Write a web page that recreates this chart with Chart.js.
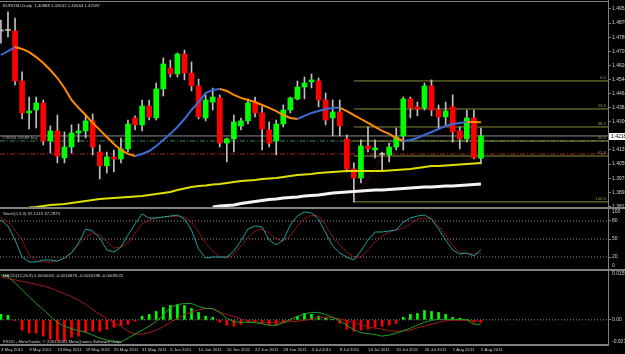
<!DOCTYPE html>
<html>
<head>
<meta charset="utf-8">
<title>EURUSD Daily</title>
<script src="https://cdn.jsdelivr.net/npm/chart.js@4.4.1/dist/chart.umd.min.js"></script>
<style>
  html, body { margin: 0; padding: 0; background: #000; }
  #wrap { position: relative; width: 625px; height: 354px; overflow: hidden; background: #000; }
  #wrap canvas { position: absolute; left: 0; }
  .rule { position: absolute; background: #808080; }
</style>
</head>
<body>
<div id="wrap">
  <canvas id="c-main" width="625" height="207" style="top:0"></canvas>
  <canvas id="c-stoch" width="625" height="60" style="top:209px"></canvas>
  <canvas id="c-macd" width="625" height="83" style="top:271px"></canvas>
  <div class="rule" style="left:0;top:1px;width:609px;height:1px"></div>
  <div class="rule" style="left:0;top:207px;width:625px;height:2px"></div>
  <div class="rule" style="left:0;top:269px;width:625px;height:2px"></div>
  <div class="rule" style="left:0;top:345px;width:609px;height:1px"></div>
  <div class="rule" style="left:608px;top:0;width:1px;height:346px"></div>
</div>
<script>
// EURUSD daily, 3 May - 5 Aug 2011 (bar index 0..68)
var dates = [
  '3 May','4 May','5 May','6 May','9 May','10 May','11 May','12 May','13 May','16 May',
  '17 May','18 May','19 May','20 May','23 May','24 May','25 May','26 May','27 May','30 May',
  '31 May','1 Jun','2 Jun','3 Jun','6 Jun','7 Jun','8 Jun','9 Jun','10 Jun','13 Jun',
  '14 Jun','15 Jun','16 Jun','17 Jun','20 Jun','21 Jun','22 Jun','23 Jun','24 Jun','27 Jun',
  '28 Jun','29 Jun','30 Jun','1 Jul','4 Jul','5 Jul','6 Jul','7 Jul','8 Jul','11 Jul',
  '12 Jul','13 Jul','14 Jul','15 Jul','18 Jul','19 Jul','20 Jul','21 Jul','22 Jul','25 Jul',
  '26 Jul','27 Jul','28 Jul','29 Jul','1 Aug','2 Aug','3 Aug','4 Aug','5 Aug'
];

var open = [
  1.4825,1.4828,1.4825,1.4536,1.4351,1.4368,1.4409,1.4189,1.4247,1.4091,
  1.4154,1.4235,1.4247,1.4305,1.4125,1.4045,1.4097,1.4085,1.4143,1.4322,
  1.4282,1.4391,1.4322,1.4490,1.4611,1.4576,1.4692,1.4582,1.4507,1.4322,
  1.4414,1.4438,1.4177,1.4201,1.4276,1.4305,1.4409,1.4351,1.4253,1.4189,
  1.4287,1.4368,1.4432,1.4501,1.4530,1.4536,1.4426,1.4322,1.4357,1.4201,
  1.4027,1.3975,1.4160,1.4137,1.4111,1.4108,1.4154,1.4218,1.4432,1.4386,
  1.4380,1.4507,1.4368,1.4328,1.4386,1.4247,1.4201,1.4322,1.40888
];
var high = [
  1.4888,1.4935,1.4900,1.4588,1.4443,1.4443,1.4426,1.4276,1.4339,1.4241,
  1.4282,1.4287,1.4339,1.4345,1.4166,1.4125,1.4137,1.4206,1.4310,1.4334,
  1.4426,1.4426,1.4524,1.4669,1.4657,1.4698,1.4715,1.4646,1.4547,1.4455,
  1.4495,1.4455,1.4206,1.4339,1.4322,1.4432,1.4443,1.4386,1.4299,1.4310,
  1.4397,1.4443,1.4536,1.4559,1.4576,1.4553,1.4466,1.4426,1.4426,1.4224,
  1.4062,1.4195,1.4270,1.4195,1.4125,1.4177,1.4264,1.4443,1.4443,1.4414,
  1.4524,1.4542,1.4397,1.4414,1.4455,1.4270,1.4368,1.4368,1.42642
];
var low = [
  1.4755,1.4790,1.4513,1.4316,1.4258,1.4264,1.4166,1.4120,1.4062,1.4062,
  1.4120,1.4183,1.4206,1.4108,1.3969,1.4004,1.4010,1.4062,1.4125,1.4253,
  1.4247,1.4310,1.4310,1.4449,1.4559,1.4559,1.4542,1.4478,1.4316,1.4305,
  1.4368,1.4154,1.4068,1.4125,1.4253,1.4287,1.4328,1.4137,1.4154,1.4108,
  1.4270,1.4351,1.4426,1.4432,1.4495,1.4386,1.4282,1.4218,1.4218,1.4010,
  1.3837,1.3946,1.4125,1.4091,1.4016,1.4068,1.4137,1.4137,1.4322,1.4334,
  1.4368,1.4334,1.4264,1.4276,1.4183,1.4143,1.4183,1.4085,1.40564
];
var close = [
  1.4825,1.4828,1.4536,1.4351,1.4362,1.4409,1.4189,1.4247,1.4102,1.4154,
  1.4235,1.4247,1.4305,1.4154,1.4045,1.4097,1.4085,1.4143,1.4287,1.4282,
  1.4391,1.4328,1.4490,1.4634,1.4576,1.4692,1.4582,1.4507,1.4328,1.4426,
  1.4443,1.4177,1.4201,1.4299,1.4305,1.4409,1.4351,1.4258,1.4177,1.4287,
  1.4368,1.4438,1.4501,1.4524,1.4542,1.4426,1.4310,1.4357,1.4276,1.4027,
  1.3975,1.4160,1.4143,1.4149,1.4111,1.4154,1.4212,1.4432,1.4380,1.4374,
  1.4507,1.4368,1.4328,1.4362,1.4241,1.4201,1.4322,1.4091,1.42187
];

// colour-switching average (blue rising / orange falling)
var maFast = [
  1.4686,1.4709,1.4732,1.4721,1.4703,1.4674,1.4640,1.4599,1.4553,1.4495,
  1.4426,1.4380,1.4339,1.4293,1.4253,1.4212,1.4172,1.4137,1.4114,1.4102,
  1.4114,1.4131,1.4160,1.4195,1.4230,1.4270,1.4316,1.4368,1.4414,1.4466,
  1.4484,1.4490,1.4478,1.4455,1.4438,1.4426,1.4414,1.4397,1.4380,1.4362,
  1.4339,1.4322,1.4316,1.4334,1.4351,1.4362,1.4374,1.4380,1.4382,1.4362,
  1.4339,1.4316,1.4293,1.4270,1.4247,1.4230,1.4206,1.4189,1.4195,1.4206,
  1.4224,1.4241,1.4258,1.4276,1.4287,1.4293,1.4299,1.4298,1.4297
];
// yellow average
var maMid = [
  null,null,null,null,1.38047,1.38076,1.38133,1.38191,1.38220,1.38249,
  1.38307,1.38365,1.38422,1.38480,1.38538,1.38567,1.38596,1.38625,1.38654,1.38682,
  1.38711,1.38769,1.38827,1.38885,1.38943,1.39058,1.39145,1.39232,1.39289,1.39318,
  1.39376,1.39405,1.39463,1.39521,1.39578,1.39607,1.39636,1.39694,1.39723,1.39752,
  1.39810,1.39867,1.39925,1.39954,1.39983,1.40041,1.40070,1.40099,1.40127,1.40156,
  1.40156,1.40156,1.40156,1.40156,1.40156,1.40185,1.40214,1.40243,1.40272,1.40330,
  1.40388,1.40445,1.40445,1.40474,1.40503,1.40532,1.40561,1.40590,1.40619
];
// white average
var maSlow = [
  null,null,null,null,null,null,null,null,null,null,
  null,null,null,null,null,null,null,null,null,null,
  null,null,null,null,null,null,null,null,null,null,
  1.38076,1.38133,1.38162,1.38191,1.38278,1.38336,1.38394,1.38451,1.38509,1.38538,
  1.38596,1.38625,1.38654,1.38711,1.38740,1.38769,1.38827,1.38885,1.38914,1.38943,
  1.38972,1.39001,1.39030,1.39058,1.39058,1.39087,1.39116,1.39145,1.39174,1.39203,
  1.39232,1.39232,1.39260,1.39289,1.39289,1.39318,1.39347,1.39376,1.39405
];

var stochMain = [
  81.7,71.7,48.3,20,11.7,11.7,15,15,13.3,18.3,
  26.7,43.3,66.7,63.3,51.7,31.7,28.3,36.7,56.7,75,
  91.7,85,85,86.7,88.3,90,83.3,65,33.3,18.3,
  20,20,20,30,46.7,66.7,71.7,70,48.3,40,
  48.3,73.3,88.3,95,93.3,83.3,60,38.3,26.7,20,
  15,30,48.3,61.7,61.7,63.3,65,78.3,85,88.3,
  90,83.3,66.7,48.3,31.7,25,26.7,21.7,32.1
];
var stochSignal = [
  85,78.3,65,48.3,23.3,13.3,11.7,11.7,13.3,18.3,
  28.3,40,53.3,60,56.7,45,35,36.7,43.3,60,
  75,81.7,85,86.7,86.7,88.3,86.7,78.3,61.7,43.3,
  30,20,18.3,25,38.3,53.3,63.3,66.7,60,50,
  46.7,55,71.7,83.3,90,88.3,73.3,53.3,40,28.3,
  20,20,31.7,45,55,61.7,65,68.3,75,83.3,
  85,83.3,71.7,56.7,38.3,28.3,25,25,26.7
];

var macdHist = [
  0.00177,0.00145,-0.0002,-0.00338,-0.00434,-0.00434,-0.00531,-0.00627,-0.00691,-0.00691,
  -0.00563,-0.00531,-0.00402,-0.00370,-0.00370,-0.00305,-0.00241,-0.00177,-0.00145,-0.00048,
  0.00113,0.00177,0.00273,0.00402,0.00466,0.00498,0.00466,0.00370,0.00241,0.00113,
  0.00080,-0.00080,-0.00177,-0.00209,-0.00145,-0.00080,-0.00048,-0.00113,-0.00177,-0.00177,
  -0.00080,-0.00016,0.00113,0.00209,0.00177,0.00113,0.00048,0.00016,-0.00113,-0.00305,
  -0.00370,-0.00338,-0.00305,-0.00241,-0.00209,-0.00177,-0.00113,0.00080,0.00177,0.00209,
  0.00305,0.00273,0.00241,0.00177,0.00080,0.00048,0.00016,-0.00080,-0.00080
];
var macdMain = [
  0.01463,0.01415,0.01206,0.00981,0.00756,0.00531,0.00338,0.00113,-0.00080,-0.00209,
  -0.00289,-0.00354,-0.00402,-0.00498,-0.00595,-0.00659,-0.00707,-0.00723,-0.00595,-0.00466,
  -0.00338,-0.00209,-0.00048,0.00145,0.00402,0.00498,0.00531,0.00531,0.00434,0.00370,
  0.00370,0.00241,0.00048,-0.00064,-0.00080,-0.00080,-0.00096,-0.00129,-0.00177,-0.00177,
  -0.00096,0.00016,0.00113,0.00193,0.00241,0.00241,0.00177,0.00080,-0.00032,-0.00177,
  -0.00322,-0.00418,-0.00450,-0.00482,-0.00531,-0.00498,-0.00434,-0.00354,-0.00273,-0.00177,
  -0.00080,-0.00016,0.00016,0.00016,0.00016,0.00016,0,-0.00145,-0.00145
];
var macdSignal = [
  0.01399,0.01350,0.01302,0.01254,0.01206,0.01158,0.01109,0.01029,0.00949,0.00852,
  0.00756,0.00643,0.00498,0.00338,0.00177,0.00048,-0.00096,-0.00209,-0.00370,-0.00466,
  -0.00466,-0.00418,-0.00338,-0.00225,-0.00080,0.00048,0.00177,0.00257,0.00322,0.00370,
  0.00354,0.00241,0.00177,0.00113,0.00032,-0.00032,-0.00064,-0.00080,-0.00080,-0.00080,
  -0.00080,-0.00064,-0.00048,-0.00016,0.00032,0.00080,0.00080,0.00064,0.00032,-0.00032,
  -0.00080,-0.00161,-0.00225,-0.00273,-0.00305,-0.00354,-0.00370,-0.00370,-0.00338,-0.00257,
  -0.00209,-0.00145,-0.00080,-0.00032,-0.00016,-0.00016,-0.00016,-0.00032,-0.00048
];

// axis labels
var priceTickLabels = ['1.49520','1.48705','1.47890','1.47075','1.46260','1.45445','1.44630','1.43815',
  '1.43000','1.42185','1.41370','1.40555','1.39740','1.38925','1.38110'];
var timeTickIndex = [0,4,8,12,16,20,24,28,32,36,40,44,48,52,56,60,64,68];
var timeTickLabels = ['3 May 2011','9 May 2011','13 May 2011','19 May 2011','25 May 2011','31 May 2011',
  '6 Jun 2011','10 Jun 2011','16 Jun 2011','22 Jun 2011','28 Jun 2011','4 Jul 2011','8 Jul 2011',
  '14 Jul 2011','20 Jul 2011','26 Jul 2011','1 Aug 2011','5 Aug 2011'];
var stochLevels = [80, 50, 20];

// chart objects
var fibLabels = ['0.0','23.6','38.2','50.0','61.8','100.0'];
var fibPrices = [1.4536, 1.4374, 1.4270, 1.4189, 1.4102, 1.3837];
var fibFrom = 50;
var fibTrendIdx = [50, 61];
var fibTrendPrice = [1.3837, 1.4542];
var orderPrice = 1.4218;
var greenLinePrice = 1.4189;
var redLinePrice = 1.4114;

// view window (bar index at left and right edge of the plot)
var X_MIN = -0.13, X_MAX = 86.0;

var UP = '#00ff00', DOWN = '#ff0000', WICK = '#c0c0c0';
var BLUE = '#3c6cd8', ORANGE = '#ff8c00';
var FONT = '"Liberation Sans", Arial, sans-serif';
var TXT = '#d0d0d0', GRID = '#808080';
var SMALL = 4.3;

function pts(arr) {
  var out = [];
  arr.forEach(function (v, i) { if (v != null) out.push({ x: i, y: v }); });
  return out;
}
function hline(v, from, to) { return [{ x: from, y: v }, { x: to, y: v }]; }
function lineSet(data, color, width, order, dash) {
  return { type: 'line', data: data, borderColor: color, borderWidth: width, borderDash: dash || [],
    pointRadius: 0, tension: 0, fill: false, order: order };
}
function text(ctx, s, x, y, color, align, size) {
  ctx.save();
  ctx.font = (size || SMALL) + 'px ' + FONT;
  ctx.fillStyle = color || TXT;
  ctx.textAlign = align || 'left';
  ctx.textBaseline = 'middle';
  ctx.fillText(s, x, y);
  ctx.restore();
}
function rightAxis(extra) {
  var ax = {
    position: 'right',
    afterFit: function (s) { s.width = 17; s.paddingTop = 0; s.paddingBottom = 0; },
    ticks: { color: TXT, font: { size: 5, family: FONT }, padding: 1 },
    grid: { drawOnChartArea: false, drawTicks: true, tickLength: 3, color: GRID },
    border: { display: true, color: GRID }
  };
  for (var k in extra) ax[k] = extra[k];
  return ax;
}
var hiddenX = { type: 'linear', min: X_MIN, max: X_MAX, offset: false, display: false };
function opts(scales) {
  return {
    responsive: false, animation: false, events: [],
    layout: { padding: 0 },
    plugins: { legend: { display: false }, tooltip: { enabled: false } },
    scales: scales
  };
}

// ---------- main price window ----------
var bodies = open.map(function (o, i) { return { x: i, y: [o, close[i]] }; });
var wicks = low.map(function (l, i) { return { x: i, y: [l, high[i]] }; });

var mainSets = [
  { type: 'line', data: pts(maFast), borderWidth: 2, borderColor: BLUE, pointRadius: 0, tension: 0, order: 1,
    segment: { borderColor: function (c) { return c.p1.parsed.y > c.p0.parsed.y ? BLUE : ORANGE; } } },
  lineSet(pts(maMid), '#dede00', 2, 2),
  lineSet(pts(maSlow), '#f4f4f4', 3, 3),
  { type: 'bar', data: bodies, barThickness: 5, minBarLength: 1, grouped: false, order: 4,
    backgroundColor: function (c) {
      var v = c.raw.y;
      return v[1] > v[0] ? UP : (v[1] < v[0] ? DOWN : WICK);
    } },
  { type: 'bar', data: wicks, barThickness: 1, grouped: false, order: 5, backgroundColor: WICK },
  lineSet([{ x: fibTrendIdx[0], y: fibTrendPrice[0] }, { x: fibTrendIdx[1], y: fibTrendPrice[1] }], '#e01010', 1, 6, [1, 2]),
  lineSet(hline(orderPrice, X_MIN, X_MAX), '#8c8c8c', 1, 8),
  lineSet(hline(greenLinePrice, X_MIN, X_MAX), '#2f8f4f', 1, 8, [5, 2, 1, 2]),
  lineSet(hline(redLinePrice, X_MIN, X_MAX), '#b02020', 1, 8, [5, 2, 1, 2])
];
fibPrices.forEach(function (p) { mainSets.push(lineSet(hline(p, fibFrom, X_MAX), '#8a8a3c', 1, 7)); });

new Chart(document.getElementById('c-main'), {
  type: 'bar',
  data: { datasets: mainSets },
  options: opts({
    x: hiddenX,
    y: rightAxis({
      min: 1.38072, max: 1.50040,
      afterBuildTicks: function (s) { s.ticks = priceTickLabels.map(function (t) { return { value: parseFloat(t) }; }); },
      ticks: { color: TXT, font: { size: 5, family: FONT }, padding: 1,
        callback: function (v, i) { return priceTickLabels[i]; } }
    })
  }),
  plugins: [{
    id: 'mainText',
    afterDraw: function (chart) {
      var ctx = chart.ctx, y = chart.scales.y;
      text(ctx, 'EURUSD,Daily  1.40888 1.42642 1.40564 1.42187', 3, 6);
      text(ctx, '#28944 33589 buy', 2, y.getPixelForValue(orderPrice) + 2, '#a0a0a0');
      fibPrices.forEach(function (p, i) {
        text(ctx, fibLabels[i], 606, y.getPixelForValue(p) - 3, '#9a9a40', 'right');
      });
      var cy = Math.round(y.getPixelForValue(close[close.length - 1]));
      ctx.fillStyle = '#ffffff';
      ctx.fillRect(609, cy - 3, 16, 7);
      text(ctx, close[close.length - 1].toFixed(5), 611, cy + 0.5, '#000000', 'left', 5);
    }
  }]
});

// ---------- stochastic window ----------
var stochSets = [
  lineSet(pts(stochMain), '#1f9e9e', 1, 1),
  lineSet(pts(stochSignal), '#c41c1c', 1, 2, [2, 1])
];
stochLevels.forEach(function (lv) { stochSets.push(lineSet(hline(lv, X_MIN, X_MAX), '#9a9a9a', 1, 5, [1, 2])); });

new Chart(document.getElementById('c-stoch'), {
  type: 'line',
  data: { datasets: stochSets },
  options: opts({
    x: hiddenX,
    y: rightAxis({
      min: 0, max: 100,
      afterBuildTicks: function (s) { s.ticks = stochLevels.map(function (v) { return { value: v }; }); }
    })
  }),
  plugins: [{
    id: 'stochText',
    afterDraw: function (chart) {
      var ctx = chart.ctx;
      text(ctx, 'Stoch(5,3,3) 32.1245 37.2873', 3, 5);
      text(ctx, '100', 612, 3, TXT, 'left', 5);
      text(ctx, '0', 612, 57, TXT, 'left', 5);
    }
  }]
});

// ---------- MACD window ----------
var macdSets = [
  lineSet(pts(macdMain), '#20a020', 1, 1),
  lineSet(pts(macdSignal), '#a01c1c', 1, 2),
  { type: 'bar', data: pts(macdHist), barThickness: 2, grouped: false, order: 3,
    backgroundColor: function (c) { return c.raw.y >= 0 ? UP : DOWN; } },
  lineSet(hline(0, X_MIN, X_MAX), '#9a9a9a', 1, 5, [1, 2])
];

new Chart(document.getElementById('c-macd'), {
  type: 'bar',
  data: { datasets: macdSets },
  options: opts({
    x: {
      type: 'linear', min: X_MIN, max: X_MAX, offset: false, position: 'bottom',
      afterBuildTicks: function (s) { s.ticks = timeTickIndex.map(function (v) { return { value: v }; }); },
      afterFit: function (s) { s.height = 10; s.paddingLeft = 0; s.paddingRight = 0; },
      ticks: { color: TXT, font: { size: SMALL, family: FONT }, padding: 1, align: 'start',
        autoSkip: false, maxRotation: 0, minRotation: 0,
        callback: function (v, i) { return timeTickLabels[i]; } },
      grid: { drawOnChartArea: false, drawTicks: true, tickLength: 2, color: GRID },
      border: { display: true, color: GRID }
    },
    y: rightAxis({
      min: -0.00788, max: 0.015916,
      afterBuildTicks: function (s) { s.ticks = [{ value: 0 }]; },
      ticks: { color: TXT, font: { size: 5, family: FONT }, padding: 1,
        callback: function () { return '0.00'; } }
    })
  }),
  plugins: [{
    id: 'macdText',
    afterDraw: function (chart) {
      var ctx = chart.ctx;
      text(ctx, 'MACD(12,26,9) 0.0000000 -0.0016876 -0.0020198 -0.0009522', 3, 5);
      text(ctx, 'FXDD - MetaTrader, \u00A9 2001-2011 MetaQuotes Software Corp.', 3, 71);
      text(ctx, '0.015916', 612, 3, TXT, 'left', 5);
      text(ctx, '-0.00788', 612, 71, TXT, 'left', 5);
    }
  }]
});
</script>
</body>
</html>
